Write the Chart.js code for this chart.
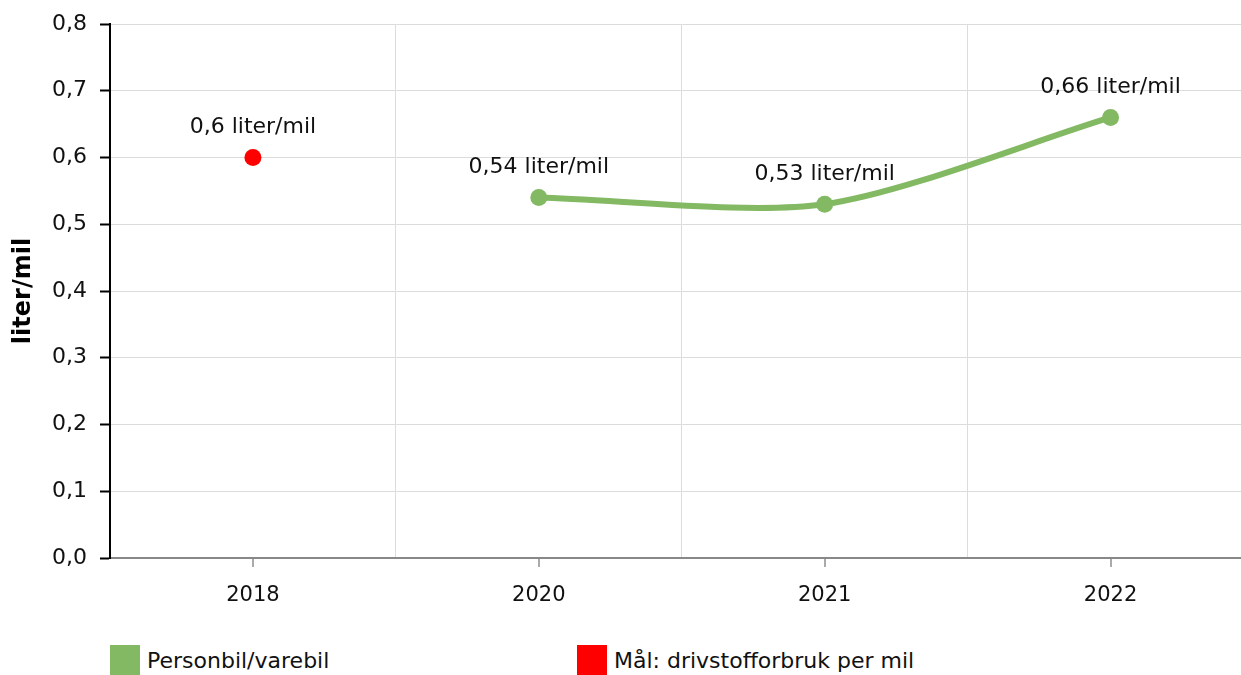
<!DOCTYPE html>
<html>
<head>
<meta charset="utf-8">
<script src="https://cdn.jsdelivr.net/npm/chart.js@4/dist/chart.umd.min.js"></script>
<style>
  body { margin: 0; background: #fff; overflow: hidden; font-family: "DejaVu Sans", Verdana, sans-serif; }
  .wrap { position: relative; width: 1241px; height: 675px; overflow: hidden; }
  #chart { position: absolute; left: 0; top: 0; }
  .legend { position: absolute; top: 645px; left: 0; font-size: 22px; color: #111; }
  .item { position: absolute; display: flex; align-items: center; white-space: nowrap; }
  .box { width: 30px; height: 30px; margin-right: 7px; }
</style>
</head>
<body>
<div class="wrap">
  <canvas id="chart" width="1262" height="620"></canvas>
  <div class="legend" id="legend"></div>
</div>
<script>
const years = ['2018', '2020', '2021', '2022']
const carValues = [null, 0.54, 0.53, 0.66]
const goalValues = [0.6, null, null, null]
const yTicks = [0, 0.1, 0.2, 0.3, 0.4, 0.5, 0.6, 0.7, 0.8]
const seriesNames = ['Personbil/varebil', 'Mål: drivstofforbruk per mil']
const green = '#83b963'
const red = '#ff0000'
const fontFamily = '"DejaVu Sans", Verdana, sans-serif'

const fmt = v => v.toString().replace('.', ',')

// labels over each point
const pointLabels = {
  id: 'pointLabels',
  afterDatasetsDraw(chart) {
    const ctx = chart.ctx
    ctx.save()
    ctx.font = '22px ' + fontFamily
    ctx.fillStyle = '#111'
    ctx.textAlign = 'center'
    ctx.textBaseline = 'middle'
    chart.data.datasets.forEach((ds, i) => {
      chart.getDatasetMeta(i).data.forEach((pt, j) => {
        if (ds.data[j] == null) return
        ctx.fillText(fmt(ds.data[j]) + ' liter/mil', pt.x, pt.y - 30)
      })
    })
    ctx.restore()
  }
}

// small tick marks under each category
const xTickMarks = {
  id: 'xTickMarks',
  afterDraw(chart) {
    const ctx = chart.ctx
    const x = chart.scales.x
    ctx.save()
    ctx.strokeStyle = '#aaa'
    ctx.lineWidth = 2
    years.forEach((y, i) => {
      const px = Math.round(x.getPixelForValue(i))
      ctx.beginPath()
      ctx.moveTo(px, x.top + 1)
      ctx.lineTo(px, x.top + 9)
      ctx.stroke()
    })
    ctx.restore()
  }
}

new Chart(document.getElementById('chart'), {
  type: 'line',
  data: {
    labels: years,
    datasets: [
      {
        label: seriesNames[0],
        data: carValues,
        borderColor: green,
        backgroundColor: green,
        borderWidth: 6,
        pointRadius: 8.5,
        pointHoverRadius: 8.5,
        pointBorderWidth: 0,
        tension: 0.27,
        spanGaps: false
      },
      {
        label: seriesNames[1],
        data: goalValues,
        borderColor: red,
        backgroundColor: red,
        showLine: false,
        pointRadius: 8.5,
        pointBorderWidth: 0
      }
    ]
  },
  options: {
    responsive: false,
    animation: false,
    layout: { padding: { top: 0, left: 0, right: 0, bottom: 0 } },
    plugins: {
      legend: { display: false },
      tooltip: { enabled: false }
    },
    scales: {
      x: {
        offset: true,
        afterFit: s => { s.height = 62 },
        grid: { offset: true, color: '#dcdcdc', drawTicks: false },
        border: { color: '#888', width: 2 },
        ticks: { color: '#111', padding: 25, font: { size: 21, family: fontFamily } }
      },
      y: {
        min: 0,
        max: 0.8,
        afterFit: s => { s.width = 110; s.paddingTop = 24 },
        afterBuildTicks: s => { s.ticks = yTicks.map(v => ({ value: v })) },
        grid: { color: '#dcdcdc', tickLength: 10, tickColor: '#000', tickWidth: 2 },
        border: { color: '#000', width: 2 },
        ticks: {
          color: '#111',
          padding: 13,
          font: { size: 22, family: fontFamily },
          callback: v => v.toFixed(1).replace('.', ',')
        },
        title: {
          display: true,
          text: 'liter/mil',
          color: '#000',
          padding: { top: 9, bottom: 0 },
          font: { size: 24, weight: 'bold', family: fontFamily }
        }
      }
    }
  },
  plugins: [pointLabels, xTickMarks]
})

// legend below the chart
const legend = document.getElementById('legend')
const legendLeft = [110, 577]
seriesNames.forEach((name, i) => {
  const item = document.createElement('div')
  item.className = 'item'
  item.style.left = legendLeft[i] + 'px'
  item.innerHTML = '<span class="box" style="background:' + (i ? red : green) + '"></span><span>' + name + '</span>'
  legend.appendChild(item)
})
</script>
</body>
</html>
